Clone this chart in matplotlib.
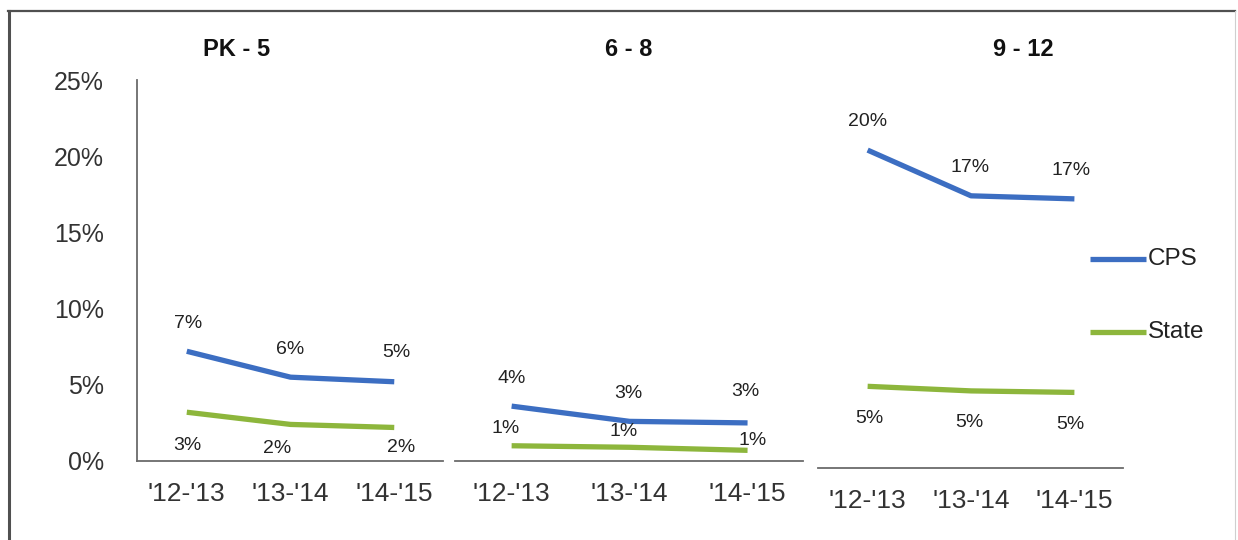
import matplotlib
matplotlib.use("Agg")
import matplotlib.pyplot as plt
from matplotlib.lines import Line2D

plt.rcParams['font.family'] = ['Liberation Sans', 'DejaVu Sans']

W, H = 1238, 540

# ---- data ----
years = ["'12-'13", "'13-'14", "'14-'15"]
panels = ["PK - 5", "6 - 8", "9 - 12"]
cps = [
    [7.2, 5.5, 5.2],
    [3.6, 2.6, 2.5],
    [20.4, 17.4, 17.2],
]
state = [
    [3.2, 2.4, 2.2],
    [1.0, 0.9, 0.7],
    [4.9, 4.6, 4.5],
]
yticks = [0, 5, 10, 15, 20, 25]

BLUE = "#3c6ec2"
GREEN = "#8db63c"
AXIS = "#6b6b6b"

# label offsets in pixels (dx, dy) for each series/panel/point
cps_off = [
    [(1, 28), (0, 28), (2, 29)],
    [(0, 28), (-1, 28), (-2, 31)],
    [(0, 29), (-1, 28), (-3, 28)],
]
state_off = [
    [(1, -33), (-13, -24), (7, -20)],
    [(-6, 17), (-6, 16), (5, 10)],
    [(2, -32), (-2, -32), (-4, -32)],
]

# axes extents in pixels: (left, right)
extents = [(137, 443), (455, 803), (818, 1123)]
y0_px, y25_px = 461, 80

fig = plt.figure(figsize=(W / 100, H / 100), dpi=100)
fig.patch.set_facecolor("white")

# outer frame
fig.add_artist(Line2D([8 / W, 1235 / W], [1 - 11 / H, 1 - 11 / H],
                      transform=fig.transFigure, color="#505050", lw=1.6))
fig.add_artist(Line2D([9 / W, 9 / W], [0, 1 - 11 / H],
                      transform=fig.transFigure, color="#505050", lw=2.2))
fig.add_artist(Line2D([1235 / W, 1235 / W], [0, 1 - 11 / H],
                      transform=fig.transFigure, color="#cfcfcf", lw=0.8))

bottom = (H - y0_px) / H
height = (y0_px - y25_px) / H

axes = []
for i, (l, r) in enumerate(extents):
    ax = fig.add_axes([l / W, bottom, (r - l) / W, height])
    ax.set_facecolor("none")
    if i == 2:
        ax.spines["bottom"].set_position(("outward", 5))
    ax.set_xlim(-0.48, 2.47)
    ax.set_ylim(0, 25)
    x = list(range(len(years)))
    ax.plot(x, cps[i], color=BLUE, lw=3.8, solid_capstyle="butt", solid_joinstyle="round")
    ax.plot(x, state[i], color=GREEN, lw=3.8, solid_capstyle="butt", solid_joinstyle="round")

    for j in x:
        dx, dy = cps_off[i][j]
        ax.annotate(f"{round(cps[i][j] + 1e-9):.0f}%", (j, cps[i][j]),
                    xytext=(dx, dy), textcoords="offset pixels",
                    ha="center", va="center", fontsize=14, color="#222222")
        dx, dy = state_off[i][j]
        ax.annotate(f"{round(state[i][j] + 1e-9):.0f}%", (j, state[i][j]),
                    xytext=(dx, dy), textcoords="offset pixels",
                    ha="center", va="center", fontsize=14, color="#222222")

    ax.set_xticks(x)
    ax.set_xticklabels(years, fontsize=19, color="#333333")
    ax.tick_params(axis="x", length=0, pad=15)
    for s in ["top", "right"]:
        ax.spines[s].set_visible(False)
    ax.spines["bottom"].set_color(AXIS)
    ax.spines["bottom"].set_linewidth(1.3)
    if i == 0:
        ax.spines["left"].set_color(AXIS)
        ax.spines["left"].set_linewidth(1.3)
        ax.set_yticks(yticks)
        ax.set_yticklabels([f"{t}%" for t in yticks], fontsize=18, color="#333333")
        ax.tick_params(axis="y", length=0, pad=24)
    else:
        ax.spines["left"].set_visible(False)
        ax.set_yticks([])
    axes.append(ax)

# panel titles
title_x = [237, 629, 1023]
for t, tx in zip(panels, title_x):
    fig.text(tx / W, 1 - 50 / H, t, ha="center", va="center",
             fontsize=17, fontweight="bold", color="#111111")

# legend drawn beside the last panel
for name, col, ly in [("CPS", BLUE, 259), ("State", GREEN, 332)]:
    yy = 1 - ly / H
    fig.add_artist(Line2D([1090 / W, 1146 / W], [yy, yy], transform=fig.transFigure,
                          color=col, lw=3.8, solid_capstyle="butt"))
    fig.text(1148 / W, yy, name, ha="left", va="center", fontsize=17.5, color="#222222")

fig.savefig("out.png", dpi=100, facecolor="white")
